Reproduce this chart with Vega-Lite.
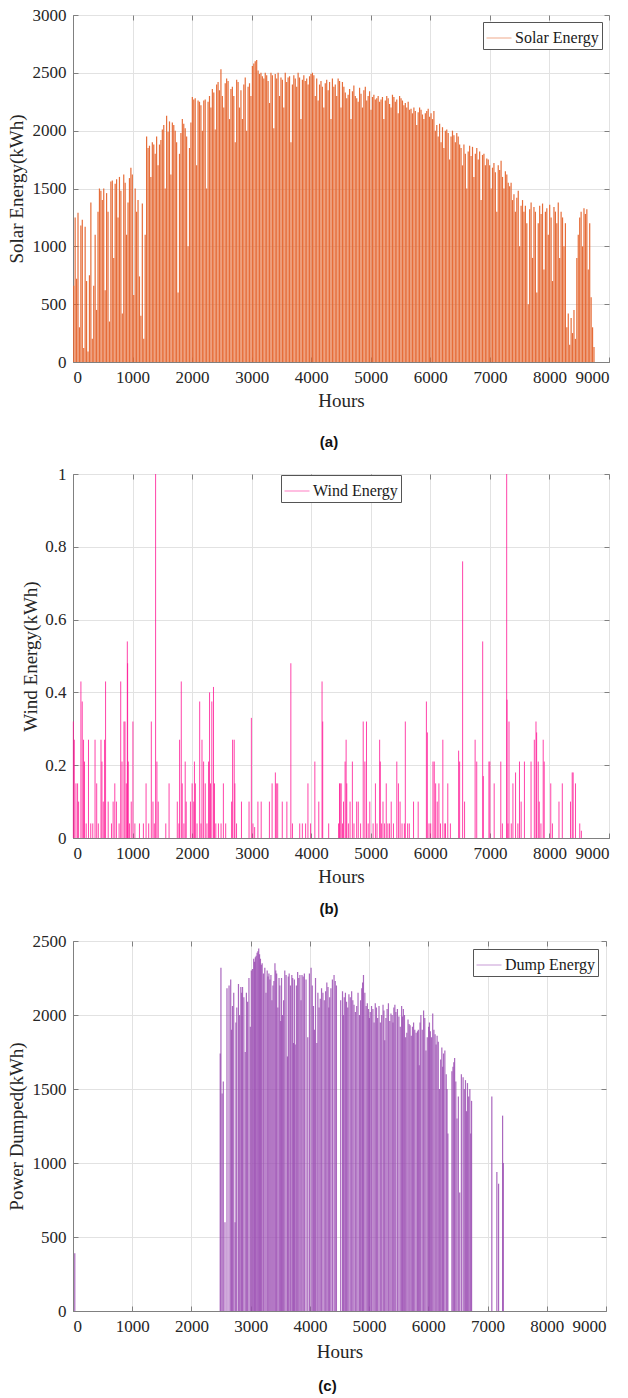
{
"$schema":"https://vega.github.io/schema/vega-lite/v6.json",
"background":"white",
"padding":{"left":6,"top":5,"right":0,"bottom":0},
"config":{
 "font":"Liberation Serif",
 "view":{"stroke":"#808080","strokeWidth":1},
 "axis":{"labelFont":"Liberation Serif","labelFontSize":17,"labelColor":"#262626","titleFont":"Liberation Serif","titleFontSize":19,"titleFontWeight":"normal","titleColor":"#262626","gridColor":"#e2e2e2","domainColor":"#808080","tickColor":"#808080","tickSize":-5,"labelPadding":12},
 "legend":{"labelFont":"Liberation Serif","labelFontSize":16,"labelColor":"#1a1a1a","symbolType":"stroke","symbolSize":625,"symbolStrokeWidth":1,"symbolOpacity":0.55,"strokeColor":"#555555","fillColor":"white","padding":3,"labelOffset":3,"rowPadding":0},
 "title":{"font":"Liberation Sans","fontSize":15,"fontWeight":"bold","color":"#111111","orient":"bottom","anchor":"middle","offset":20,"dx":-12}
},
"datasets":{
"solar":[
{"h":12,"v":660},{"h":36,"v":1250},{"h":60,"v":720},{"h":84,"v":1290},{"h":108,"v":300},{"h":132,"v":1180},{"h":156,"v":1230},{"h":180,"v":120},{"h":204,"v":1170},{"h":228,"v":700},
{"h":252,"v":90},{"h":276,"v":750},{"h":300,"v":1380},{"h":324,"v":200},{"h":348,"v":660},{"h":372,"v":1100},{"h":396,"v":450},{"h":420,"v":1300},{"h":444,"v":1500},{"h":468,"v":1480},
{"h":492,"v":1400},{"h":516,"v":1500},{"h":540,"v":620},{"h":564,"v":1460},{"h":588,"v":1300},{"h":612,"v":350},{"h":636,"v":1560},{"h":660,"v":1570},{"h":684,"v":900},{"h":708,"v":1540},
{"h":732,"v":1580},{"h":756,"v":1250},{"h":780,"v":1600},{"h":804,"v":1480},{"h":828,"v":420},{"h":852,"v":1620},{"h":876,"v":1550},{"h":900,"v":1100},{"h":924,"v":1380},{"h":948,"v":1590},
{"h":972,"v":1680},{"h":996,"v":1620},{"h":1020,"v":580},{"h":1044,"v":1500},{"h":1068,"v":1300},{"h":1092,"v":1400},{"h":1116,"v":740},{"h":1140,"v":400},{"h":1164,"v":1370},{"h":1188,"v":200},
{"h":1212,"v":1100},{"h":1236,"v":1950},{"h":1260,"v":1850},{"h":1284,"v":1870},{"h":1308,"v":1600},{"h":1332,"v":1900},{"h":1356,"v":1880},{"h":1380,"v":1800},{"h":1404,"v":1950},{"h":1428,"v":1700},
{"h":1452,"v":1880},{"h":1476,"v":1920},{"h":1500,"v":2010},{"h":1524,"v":2050},{"h":1548,"v":1500},{"h":1572,"v":2130},{"h":1596,"v":1990},{"h":1620,"v":2080},{"h":1644,"v":1620},{"h":1668,"v":2070},
{"h":1692,"v":2050},{"h":1716,"v":2000},{"h":1740,"v":1900},{"h":1764,"v":600},{"h":1788,"v":1800},{"h":1812,"v":1980},{"h":1836,"v":2100},{"h":1860,"v":2060},{"h":1884,"v":2020},{"h":1908,"v":1950},
{"h":1932,"v":1000},{"h":1956,"v":1850},{"h":1980,"v":2070},{"h":2004,"v":2290},{"h":2028,"v":2270},{"h":2052,"v":2280},{"h":2076,"v":1700},{"h":2100,"v":2260},{"h":2124,"v":2250},{"h":2148,"v":2220},
{"h":2172,"v":2000},{"h":2196,"v":2260},{"h":2220,"v":2270},{"h":2244,"v":1500},{"h":2268,"v":2250},{"h":2292,"v":2300},{"h":2316,"v":2200},{"h":2340,"v":2360},{"h":2364,"v":2330},{"h":2388,"v":2010},
{"h":2412,"v":2400},{"h":2436,"v":2420},{"h":2460,"v":2350},{"h":2484,"v":2530},{"h":2508,"v":2300},{"h":2532,"v":2200},{"h":2556,"v":2410},{"h":2580,"v":2450},{"h":2604,"v":2430},{"h":2628,"v":2100},
{"h":2652,"v":2360},{"h":2676,"v":2380},{"h":2700,"v":2300},{"h":2724,"v":1900},{"h":2748,"v":2440},{"h":2772,"v":2420},{"h":2796,"v":2200},{"h":2820,"v":2350},{"h":2844,"v":2100},{"h":2868,"v":2400},
{"h":2892,"v":2460},{"h":2916,"v":2000},{"h":2940,"v":2380},{"h":2964,"v":2410},{"h":2988,"v":2300},{"h":3012,"v":2560},{"h":3036,"v":2580},{"h":3060,"v":2600},{"h":3084,"v":2610},{"h":3108,"v":2520},
{"h":3132,"v":2490},{"h":3156,"v":2500},{"h":3180,"v":2470},{"h":3204,"v":2450},{"h":3228,"v":2500},{"h":3252,"v":2480},{"h":3276,"v":2430},{"h":3300,"v":2240},{"h":3324,"v":2500},{"h":3348,"v":2480},
{"h":3372,"v":2020},{"h":3396,"v":2490},{"h":3420,"v":2450},{"h":3444,"v":2500},{"h":3468,"v":2300},{"h":3492,"v":2460},{"h":3516,"v":2440},{"h":3540,"v":2200},{"h":3564,"v":2500},{"h":3588,"v":2420},
{"h":3612,"v":2460},{"h":3636,"v":2470},{"h":3660,"v":1900},{"h":3684,"v":2400},{"h":3708,"v":2480},{"h":3732,"v":2450},{"h":3756,"v":2380},{"h":3780,"v":2500},{"h":3804,"v":2460},{"h":3828,"v":2100},
{"h":3852,"v":2440},{"h":3876,"v":2480},{"h":3900,"v":2430},{"h":3924,"v":2450},{"h":3948,"v":2400},{"h":3972,"v":2470},{"h":3996,"v":2490},{"h":4020,"v":2500},{"h":4044,"v":2480},{"h":4068,"v":2300},
{"h":4092,"v":2450},{"h":4116,"v":2260},{"h":4140,"v":2400},{"h":4164,"v":2430},{"h":4188,"v":2380},{"h":4212,"v":2200},{"h":4236,"v":2410},{"h":4260,"v":2440},{"h":4284,"v":2350},{"h":4308,"v":2420},
{"h":4332,"v":2100},{"h":4356,"v":2450},{"h":4380,"v":2380},{"h":4404,"v":2400},{"h":4428,"v":2300},{"h":4452,"v":2450},{"h":4476,"v":2430},{"h":4500,"v":2200},{"h":4524,"v":2420},{"h":4548,"v":2380},
{"h":4572,"v":2330},{"h":4596,"v":2280},{"h":4620,"v":2310},{"h":4644,"v":2360},{"h":4668,"v":2100},{"h":4692,"v":2340},{"h":4716,"v":2390},{"h":4740,"v":2300},{"h":4764,"v":2280},{"h":4788,"v":2250},
{"h":4812,"v":2370},{"h":4836,"v":2320},{"h":4860,"v":2200},{"h":4884,"v":2350},{"h":4908,"v":2380},{"h":4932,"v":2260},{"h":4956,"v":2300},{"h":4980,"v":2340},{"h":5004,"v":2180},{"h":5028,"v":2290},
{"h":5052,"v":2310},{"h":5076,"v":2270},{"h":5100,"v":2280},{"h":5124,"v":2300},{"h":5148,"v":2250},{"h":5172,"v":2270},{"h":5196,"v":2290},{"h":5220,"v":2100},{"h":5244,"v":2260},{"h":5268,"v":2300},
{"h":5292,"v":2280},{"h":5316,"v":2230},{"h":5340,"v":2200},{"h":5364,"v":2310},{"h":5388,"v":2290},{"h":5412,"v":2250},{"h":5436,"v":2270},{"h":5460,"v":2150},{"h":5484,"v":2300},{"h":5508,"v":2280},
{"h":5532,"v":2260},{"h":5556,"v":2220},{"h":5580,"v":2240},{"h":5604,"v":2200},{"h":5628,"v":2250},{"h":5652,"v":2180},{"h":5676,"v":2190},{"h":5700,"v":2150},{"h":5724,"v":2200},{"h":5748,"v":2170},
{"h":5772,"v":2050},{"h":5796,"v":2160},{"h":5820,"v":2200},{"h":5844,"v":2180},{"h":5868,"v":2140},{"h":5892,"v":2100},{"h":5916,"v":2150},{"h":5940,"v":2170},{"h":5964,"v":2190},{"h":5988,"v":2120},
{"h":6012,"v":2150},{"h":6036,"v":2100},{"h":6060,"v":2170},{"h":6084,"v":2000},{"h":6108,"v":2050},{"h":6132,"v":1950},{"h":6156,"v":2060},{"h":6180,"v":1900},{"h":6204,"v":2030},{"h":6228,"v":1850},
{"h":6252,"v":2000},{"h":6276,"v":2010},{"h":6300,"v":1980},{"h":6324,"v":1750},{"h":6348,"v":1950},{"h":6372,"v":2000},{"h":6396,"v":1960},{"h":6420,"v":1900},{"h":6444,"v":1980},{"h":6468,"v":1950},
{"h":6492,"v":1880},{"h":6516,"v":1850},{"h":6540,"v":1700},{"h":6564,"v":1880},{"h":6588,"v":1800},{"h":6612,"v":1500},{"h":6636,"v":1820},{"h":6660,"v":1870},{"h":6684,"v":1780},{"h":6708,"v":1860},
{"h":6732,"v":1600},{"h":6756,"v":1800},{"h":6780,"v":1850},{"h":6804,"v":1750},{"h":6828,"v":1820},{"h":6852,"v":1400},{"h":6876,"v":1790},{"h":6900,"v":1800},{"h":6924,"v":1700},{"h":6948,"v":1760},
{"h":6972,"v":1750},{"h":6996,"v":1700},{"h":7020,"v":1500},{"h":7044,"v":1680},{"h":7068,"v":1720},{"h":7092,"v":1640},{"h":7116,"v":1300},{"h":7140,"v":1700},{"h":7164,"v":1660},{"h":7188,"v":1740},
{"h":7212,"v":1600},{"h":7236,"v":1500},{"h":7260,"v":1650},{"h":7284,"v":1620},{"h":7308,"v":1550},{"h":7332,"v":1520},{"h":7356,"v":1550},{"h":7380,"v":1400},{"h":7404,"v":1450},{"h":7428,"v":1300},
{"h":7452,"v":1420},{"h":7476,"v":1480},{"h":7500,"v":1000},{"h":7524,"v":1350},{"h":7548,"v":1400},{"h":7572,"v":1300},{"h":7596,"v":1350},{"h":7620,"v":1200},{"h":7644,"v":500},{"h":7668,"v":1320},
{"h":7692,"v":1380},{"h":7716,"v":900},{"h":7740,"v":1340},{"h":7764,"v":1300},{"h":7788,"v":600},{"h":7812,"v":1200},{"h":7836,"v":1350},{"h":7860,"v":1280},{"h":7884,"v":1370},{"h":7908,"v":800},
{"h":7932,"v":1300},{"h":7956,"v":1330},{"h":7980,"v":1100},{"h":8004,"v":1360},{"h":8028,"v":1250},{"h":8052,"v":700},{"h":8076,"v":1340},{"h":8100,"v":1300},{"h":8124,"v":1200},{"h":8148,"v":1380},
{"h":8172,"v":900},{"h":8196,"v":1300},{"h":8220,"v":1250},{"h":8244,"v":1000},{"h":8268,"v":1200},{"h":8292,"v":300},{"h":8316,"v":420},{"h":8340,"v":150},{"h":8364,"v":380},{"h":8388,"v":250},
{"h":8412,"v":450},{"h":8436,"v":200},{"h":8460,"v":900},{"h":8484,"v":1100},{"h":8508,"v":1250},{"h":8532,"v":1300},{"h":8556,"v":1000},{"h":8580,"v":1330},{"h":8604,"v":1280},{"h":8628,"v":1320},
{"h":8652,"v":800},{"h":8676,"v":1200},{"h":8700,"v":560},{"h":8724,"v":300},{"h":8748,"v":130}
],
"wind":[
{"h":6,"v":0.32},{"h":22,"v":0.27},{"h":50,"v":0.15},{"h":77,"v":0.15},{"h":94,"v":0.1},{"h":133,"v":0.43},{"h":155,"v":0.375},{"h":177,"v":0.27},{"h":193,"v":0.21},{"h":221,"v":0.04},{"h":260,"v":0.27},{"h":298,"v":0.04},{"h":332,"v":0.04},{"h":370,"v":0.27},{"h":398,"v":0.15},{"h":425,"v":0.04},{"h":470,"v":0.27},{"h":486,"v":0.21},{"h":508,"v":0.1},{"h":530,"v":0.27},{"h":547,"v":0.43},{"h":591,"v":0.1},{"h":646,"v":0.04},{"h":674,"v":0.1},{"h":702,"v":0.15},{"h":729,"v":0.1},{"h":774,"v":0.04},{"h":801,"v":0.43},{"h":823,"v":0.21},{"h":856,"v":0.32},{"h":873,"v":0.32},{"h":895,"v":0.15},{"h":912,"v":0.54},{"h":917,"v":0.48},{"h":928,"v":0.21},{"h":950,"v":0.04},{"h":978,"v":0.1},{"h":1006,"v":0.32},{"h":1039,"v":0.04},{"h":1116,"v":0.04},{"h":1182,"v":0.04},{"h":1227,"v":0.15},{"h":1271,"v":0.04},{"h":1315,"v":0.32},{"h":1343,"v":0.1},{"h":1365,"v":0.04},{"h":1387,"v":1.0},{"h":1409,"v":0.21},{"h":1431,"v":0.1},{"h":1558,"v":0.04},{"h":1613,"v":0.15},{"h":1751,"v":0.1},{"h":1779,"v":0.04},{"h":1790,"v":0.27},{"h":1818,"v":0.43},{"h":1834,"v":0.15},{"h":1862,"v":0.04},{"h":1884,"v":0.21},{"h":1901,"v":0.1},{"h":1972,"v":0.1},{"h":2000,"v":0.15},{"h":2028,"v":0.1},{"h":2039,"v":0.21},{"h":2055,"v":0.15},{"h":2083,"v":0.04},{"h":2127,"v":0.375},{"h":2149,"v":0.04},{"h":2166,"v":0.27},{"h":2193,"v":0.21},{"h":2221,"v":0.15},{"h":2249,"v":0.04},{"h":2276,"v":0.21},{"h":2293,"v":0.4},{"h":2309,"v":0.15},{"h":2331,"v":0.375},{"h":2359,"v":0.415},{"h":2376,"v":0.15},{"h":2398,"v":0.04},{"h":2442,"v":0.04},{"h":2486,"v":0.04},{"h":2525,"v":0.15},{"h":2564,"v":0.04},{"h":2663,"v":0.1},{"h":2680,"v":0.27},{"h":2707,"v":0.27},{"h":2718,"v":0.15},{"h":2746,"v":0.04},{"h":2829,"v":0.1},{"h":2956,"v":0.1},{"h":2995,"v":0.33},{"h":3022,"v":0.04},{"h":3050,"v":0.03},{"h":3105,"v":0.1},{"h":3160,"v":0.1},{"h":3298,"v":0.1},{"h":3343,"v":0.15},{"h":3398,"v":0.18},{"h":3414,"v":0.15},{"h":3437,"v":0.15},{"h":3514,"v":0.1},{"h":3591,"v":0.1},{"h":3658,"v":0.48},{"h":3685,"v":0.04},{"h":3807,"v":0.04},{"h":3851,"v":0.04},{"h":3906,"v":0.04},{"h":3945,"v":0.15},{"h":3989,"v":0.04},{"h":4061,"v":0.21},{"h":4127,"v":0.1},{"h":4182,"v":0.43},{"h":4193,"v":0.32},
{"h":4293,"v":0.04},{"h":4459,"v":0.04},{"h":4475,"v":0.15},{"h":4486,"v":0.15},{"h":4503,"v":0.15},{"h":4525,"v":0.04},{"h":4542,"v":0.1},{"h":4569,"v":0.21},{"h":4586,"v":0.27},{"h":4597,"v":0.15},{"h":4624,"v":0.04},{"h":4652,"v":0.1},{"h":4691,"v":0.21},{"h":4718,"v":0.04},{"h":4763,"v":0.1},{"h":4790,"v":0.1},{"h":4829,"v":0.04},{"h":4873,"v":0.32},{"h":4901,"v":0.21},{"h":4928,"v":0.32},{"h":4956,"v":0.04},{"h":4984,"v":0.1},{"h":5039,"v":0.04},{"h":5078,"v":0.15},{"h":5105,"v":0.04},{"h":5149,"v":0.27},{"h":5160,"v":0.21},{"h":5182,"v":0.04},{"h":5205,"v":0.1},{"h":5232,"v":0.04},{"h":5260,"v":0.15},{"h":5287,"v":0.04},{"h":5315,"v":0.04},{"h":5343,"v":0.1},{"h":5381,"v":0.04},{"h":5437,"v":0.21},{"h":5464,"v":0.15},{"h":5492,"v":0.1},{"h":5525,"v":0.04},{"h":5564,"v":0.04},{"h":5580,"v":0.32},{"h":5619,"v":0.04},{"h":5647,"v":0.04},{"h":5718,"v":0.1},{"h":5796,"v":0.1},{"h":5934,"v":0.375},{"h":5950,"v":0.29},{"h":5978,"v":0.04},{"h":6006,"v":0.04},{"h":6044,"v":0.21},{"h":6066,"v":0.21},{"h":6089,"v":0.15},{"h":6116,"v":0.1},{"h":6144,"v":0.15},{"h":6171,"v":0.04},{"h":6210,"v":0.27},{"h":6243,"v":0.04},{"h":6254,"v":0.04},{"h":6293,"v":0.15},{"h":6337,"v":0.04},{"h":6475,"v":0.24},{"h":6492,"v":0.21},{"h":6542,"v":0.76},{"h":6575,"v":0.1},{"h":6752,"v":0.27},{"h":6779,"v":0.21},{"h":6879,"v":0.54},{"h":6890,"v":0.17},{"h":6984,"v":0.21},{"h":7000,"v":0.21},{"h":7072,"v":0.15},{"h":7183,"v":0.21},{"h":7210,"v":0.04},{"h":7282,"v":1.0},{"h":7288,"v":0.38},{"h":7304,"v":0.04},{"h":7321,"v":0.32},{"h":7359,"v":0.04},{"h":7387,"v":0.15},{"h":7431,"v":0.18},{"h":7470,"v":0.04},{"h":7497,"v":0.21},{"h":7525,"v":0.1},{"h":7580,"v":0.21},{"h":7691,"v":0.21},{"h":7746,"v":0.27},{"h":7774,"v":0.32},{"h":7785,"v":0.29},{"h":7812,"v":0.21},{"h":7829,"v":0.1},{"h":7857,"v":0.04},{"h":7895,"v":0.27},{"h":7912,"v":0.21},{"h":8022,"v":0.15},{"h":8050,"v":0.04},{"h":8160,"v":0.1},{"h":8216,"v":0.15},{"h":8354,"v":0.1},{"h":8382,"v":0.18},{"h":8398,"v":0.18},{"h":8437,"v":0.15},{"h":8509,"v":0.04},{"h":8536,"v":0.02}
],
"dump":[
{"h":30,"v":390},{"h":2486,"v":1740},{"h":2498,"v":2320},{"h":2538,"v":1550},{"h":2566,"v":600},{"h":2635,"v":2200},{"h":2663,"v":2240},{"h":2692,"v":2060},{"h":2737,"v":600},{"h":2766,"v":2050},{"h":2794,"v":2210},{"h":2834,"v":2190},{"h":2863,"v":2190},{"h":2885,"v":2120},{"h":2908,"v":1750},{"h":2948,"v":2090},{"h":2994,"v":1920},{"h":3011,"v":2300},{"h":3051,"v":2380},{"h":3079,"v":2390},{"h":3108,"v":2420},{"h":3136,"v":2450},{"h":3165,"v":2380},{"h":3194,"v":2350},{"h":3239,"v":2320},{"h":3279,"v":2300},{"h":3308,"v":2280},{"h":3342,"v":2270},{"h":3376,"v":2200},{"h":3410,"v":2350},{"h":3439,"v":2280},{"h":3479,"v":2250},{"h":3507,"v":1960},{"h":3536,"v":2000},{"h":3576,"v":2300},{"h":3621,"v":1720},{"h":3650,"v":2280},{"h":3695,"v":2270},{"h":3724,"v":1810},{"h":3752,"v":1800},{"h":3793,"v":2290},{"h":3832,"v":2270},{"h":3867,"v":2270},{"h":3907,"v":2280},{"h":3964,"v":1850},{"h":4020,"v":2320},{"h":4060,"v":2060},{"h":4095,"v":2250},{"h":4118,"v":1810},{"h":4135,"v":2150},{"h":4175,"v":2110},{"h":4220,"v":2150},{"h":4266,"v":2160},{"h":4306,"v":2190},{"h":4334,"v":2120},{"h":4408,"v":2270},{"h":4448,"v":2200},{"h":4551,"v":2160},{"h":4580,"v":2120},{"h":4619,"v":2090},{"h":4659,"v":2140},{"h":4705,"v":2160},{"h":4745,"v":2070},{"h":4791,"v":2060},{"h":4836,"v":2000},{"h":4876,"v":2180},{"h":4905,"v":2270},{"h":4950,"v":2060},{"h":4990,"v":2040},{"h":5019,"v":2020},{"h":5064,"v":2040},{"h":5104,"v":2080},{"h":5144,"v":1980},{"h":5190,"v":1950},{"h":5235,"v":2070},{"h":5264,"v":1830},{"h":5304,"v":2040},{"h":5349,"v":1960},{"h":5389,"v":2000},{"h":5418,"v":2050},{"h":5452,"v":2020},{"h":5503,"v":1990},{"h":5549,"v":2060},{"h":5578,"v":2040},{"h":5617,"v":1850},{"h":5657,"v":1970},{"h":5692,"v":1930},{"h":5732,"v":1920},{"h":5771,"v":1900},{"h":5817,"v":1890},{"h":5846,"v":1660},{"h":5874,"v":2000},{"h":5920,"v":2030},{"h":5960,"v":1760},{"h":6005,"v":1920},{"h":6034,"v":1890},{"h":6074,"v":2010},{"h":6114,"v":1870},{"h":6148,"v":1860},{"h":6188,"v":1500},{"h":6228,"v":1780},{"h":6256,"v":1740},{"h":6302,"v":1600},{"h":6330,"v":1200},{"h":6416,"v":1650},{"h":6444,"v":1710},{"h":6484,"v":1300},{"h":6530,"v":800},{"h":6587,"v":1580},{"h":6627,"v":1560},{"h":6661,"v":1540},{"h":6701,"v":1500},{"h":6730,"v":1420},{"h":7072,"v":1450},{"h":7157,"v":940},{"h":7186,"v":860},{"h":7254,"v":1320},{"h":7266,"v":1000},
{"h":2518,"v":1470},{"h":2600,"v":2180},{"h":2677,"v":1900},{"h":2714,"v":2150},{"h":2751,"v":1950},{"h":2814,"v":2000},{"h":2848,"v":2150},{"h":2928,"v":2150},{"h":2971,"v":2250},{"h":3031,"v":2310},{"h":3065,"v":2360},{"h":3093,"v":2400},{"h":3122,"v":2430},{"h":3150,"v":2410},{"h":3180,"v":2340},{"h":3216,"v":2280},{"h":3259,"v":2150},{"h":3293,"v":2260},{"h":3325,"v":2240},{"h":3359,"v":2100},{"h":3393,"v":2230},{"h":3424,"v":2300},{"h":3459,"v":2050},{"h":3493,"v":2200},{"h":3521,"v":2250},{"h":3556,"v":2100},{"h":3598,"v":2270},{"h":3635,"v":2260},{"h":3672,"v":2200},{"h":3710,"v":2250},{"h":3738,"v":2240},{"h":3772,"v":2200},{"h":3812,"v":2250},{"h":3850,"v":2100},{"h":3887,"v":2260},{"h":3935,"v":2240},{"h":3992,"v":2280},{"h":4040,"v":2200},{"h":4077,"v":1900},{"h":4155,"v":2050},{"h":4197,"v":2180},{"h":4243,"v":2100},{"h":4286,"v":2220},{"h":4320,"v":2050},{"h":4355,"v":2180},{"h":4380,"v":2240},{"h":4428,"v":2230},{"h":4520,"v":2100},{"h":4565,"v":2000},{"h":4600,"v":2150},{"h":4639,"v":2050},{"h":4682,"v":2120},{"h":4725,"v":2100},{"h":4768,"v":2020},{"h":4813,"v":2150},{"h":4856,"v":2100},{"h":4890,"v":2220},{"h":4928,"v":2150},{"h":4970,"v":2080},{"h":5005,"v":1980},{"h":5041,"v":2060},{"h":5084,"v":1950},{"h":5124,"v":2050},{"h":5167,"v":2060},{"h":5212,"v":2000},{"h":5250,"v":2030},{"h":5284,"v":1980},{"h":5326,"v":2080},{"h":5369,"v":2010},{"h":5403,"v":1950},{"h":5435,"v":2070},{"h":5478,"v":2040},{"h":5526,"v":1920},{"h":5563,"v":1990},{"h":5597,"v":2000},{"h":5637,"v":1880},{"h":5675,"v":1940},{"h":5712,"v":1860},{"h":5751,"v":1950},{"h":5794,"v":1880},{"h":5831,"v":1900},{"h":5860,"v":1950},{"h":5897,"v":1900},{"h":5940,"v":1980},{"h":5982,"v":1850},{"h":6019,"v":1950},{"h":6054,"v":1850},{"h":6094,"v":1900},{"h":6131,"v":1800},{"h":6168,"v":1820},{"h":6208,"v":1700},{"h":6242,"v":1650},{"h":6279,"v":1760},{"h":6316,"v":1500},{"h":6398,"v":1620},{"h":6430,"v":1680},{"h":6464,"v":1550},{"h":6507,"v":1450},{"h":6558,"v":1600},{"h":6607,"v":1500},{"h":6644,"v":1350},{"h":6681,"v":1450},{"h":6716,"v":1200}
]
},
"concat":[
{
 "width":536,"height":347,
 "title":{"text":"(a)","offset":25},
 "resolve":{"axis":{"x":"independent","y":"independent"}},
 "layer":[
  {"data":{"name":"solar"},"mark":{"type":"rule","strokeWidth":1.2,"opacity":0.95},
   "encoding":{
    "x":{"field":"h","type":"quantitative","scale":{"domain":[0,9000],"nice":false},"axis":{"values":[0,1000,2000,3000,4000,5000,6000,7000,8000,9000],"format":"d","title":"Hours","titlePadding":6,"grid":true}},
    "y":{"field":"v","type":"quantitative","scale":{"domain":[0,3000],"nice":false},"axis":{"values":[0,500,1000,1500,2000,2500,3000],"format":"d","title":"Solar Energy(kWh)","titlePadding":6,"grid":true}},
    "y2":{"datum":0},
    "color":{"datum":"Solar Energy","scale":{"range":["#E5652E"]},"legend":{"title":null,"orient":"top-right","offset":7}}
   }},
  {"mark":{"type":"rule","strokeWidth":1.2},
   "encoding":{
    "x":{"datum":0,"type":"quantitative","axis":{"values":[0,1000,2000,3000,4000,5000,6000,7000,8000,9000],"labels":false,"domain":false,"grid":false,"title":null}},
    "x2":{"datum":8760},
    "y":{"datum":0,"type":"quantitative","axis":{"values":[0,500,1000,1500,2000,2500,3000],"labels":false,"domain":false,"grid":false,"title":null}},
    "color":{"datum":"Solar Energy"}
   }}
 ]
},
{
 "width":536,"height":364,
 "title":{"text":"(b)","offset":16},
 "resolve":{"axis":{"x":"independent","y":"independent"}},
 "layer":[
  {"data":{"name":"wind"},"mark":{"type":"rule","strokeWidth":1,"opacity":0.8},
   "encoding":{
    "x":{"field":"h","type":"quantitative","scale":{"domain":[0,9000],"nice":false},"axis":{"values":[0,1000,2000,3000,4000,5000,6000,7000,8000,9000],"format":"d","title":"Hours","titlePadding":6,"grid":true}},
    "y":{"field":"v","type":"quantitative","scale":{"domain":[0,1],"nice":false},"axis":{"values":[0,0.2,0.4,0.6,0.8,1],"format":".1~f","title":"Wind Energy(kWh)","titlePadding":4,"grid":true}},
    "y2":{"datum":0},
    "color":{"datum":"Wind Energy","scale":{"range":["#FF1493"]},"legend":{"title":null,"orient":"none","legendX":208,"legendY":1}}
   }},
  {"mark":{"type":"rule","strokeWidth":1.2},
   "encoding":{
    "x":{"datum":0,"type":"quantitative","axis":{"values":[0,1000,2000,3000,4000,5000,6000,7000,8000,9000],"labels":false,"domain":false,"grid":false,"title":null}},
    "x2":{"datum":8760},
    "y":{"datum":0,"type":"quantitative","axis":{"values":[0,0.2,0.4,0.6,0.8,1],"labels":false,"domain":false,"grid":false,"title":null}},
    "color":{"datum":"Wind Energy"}
   }}
 ]
},
{
 "width":533,"height":370,
 "title":{"text":"(c)","offset":18},
 "resolve":{"axis":{"x":"independent","y":"independent"}},
 "layer":[
  {"data":{"name":"dump"},"mark":{"type":"rule","strokeWidth":1.2,"opacity":0.85},
   "encoding":{
    "x":{"field":"h","type":"quantitative","scale":{"domain":[0,9000],"nice":false},"axis":{"values":[0,1000,2000,3000,4000,5000,6000,7000,8000,9000],"format":"d","title":"Hours","titlePadding":8,"grid":true}},
    "y":{"field":"v","type":"quantitative","scale":{"domain":[0,2500],"nice":false},"axis":{"values":[0,500,1000,1500,2000,2500],"format":"d","title":"Power Dumped(kWh)","titlePadding":6,"grid":true}},
    "y2":{"datum":0},
    "color":{"datum":"Dump Energy","scale":{"range":["#9B4DB3"]},"legend":{"title":null,"orient":"top-right","offset":8}}
   }},
  {"mark":{"type":"rule","strokeWidth":1.2},
   "encoding":{
    "x":{"datum":0,"type":"quantitative","axis":{"values":[0,1000,2000,3000,4000,5000,6000,7000,8000,9000],"labels":false,"domain":false,"grid":false,"title":null}},
    "x2":{"datum":8760},
    "y":{"datum":0,"type":"quantitative","axis":{"values":[0,500,1000,1500,2000,2500],"labels":false,"domain":false,"grid":false,"title":null}},
    "color":{"datum":"Dump Energy"}
   }}
 ]
}
],
"columns":1,
"align":"none",
"spacing":13,
"resolve":{"scale":{"color":"independent"},"legend":{"color":"independent"}}
}
